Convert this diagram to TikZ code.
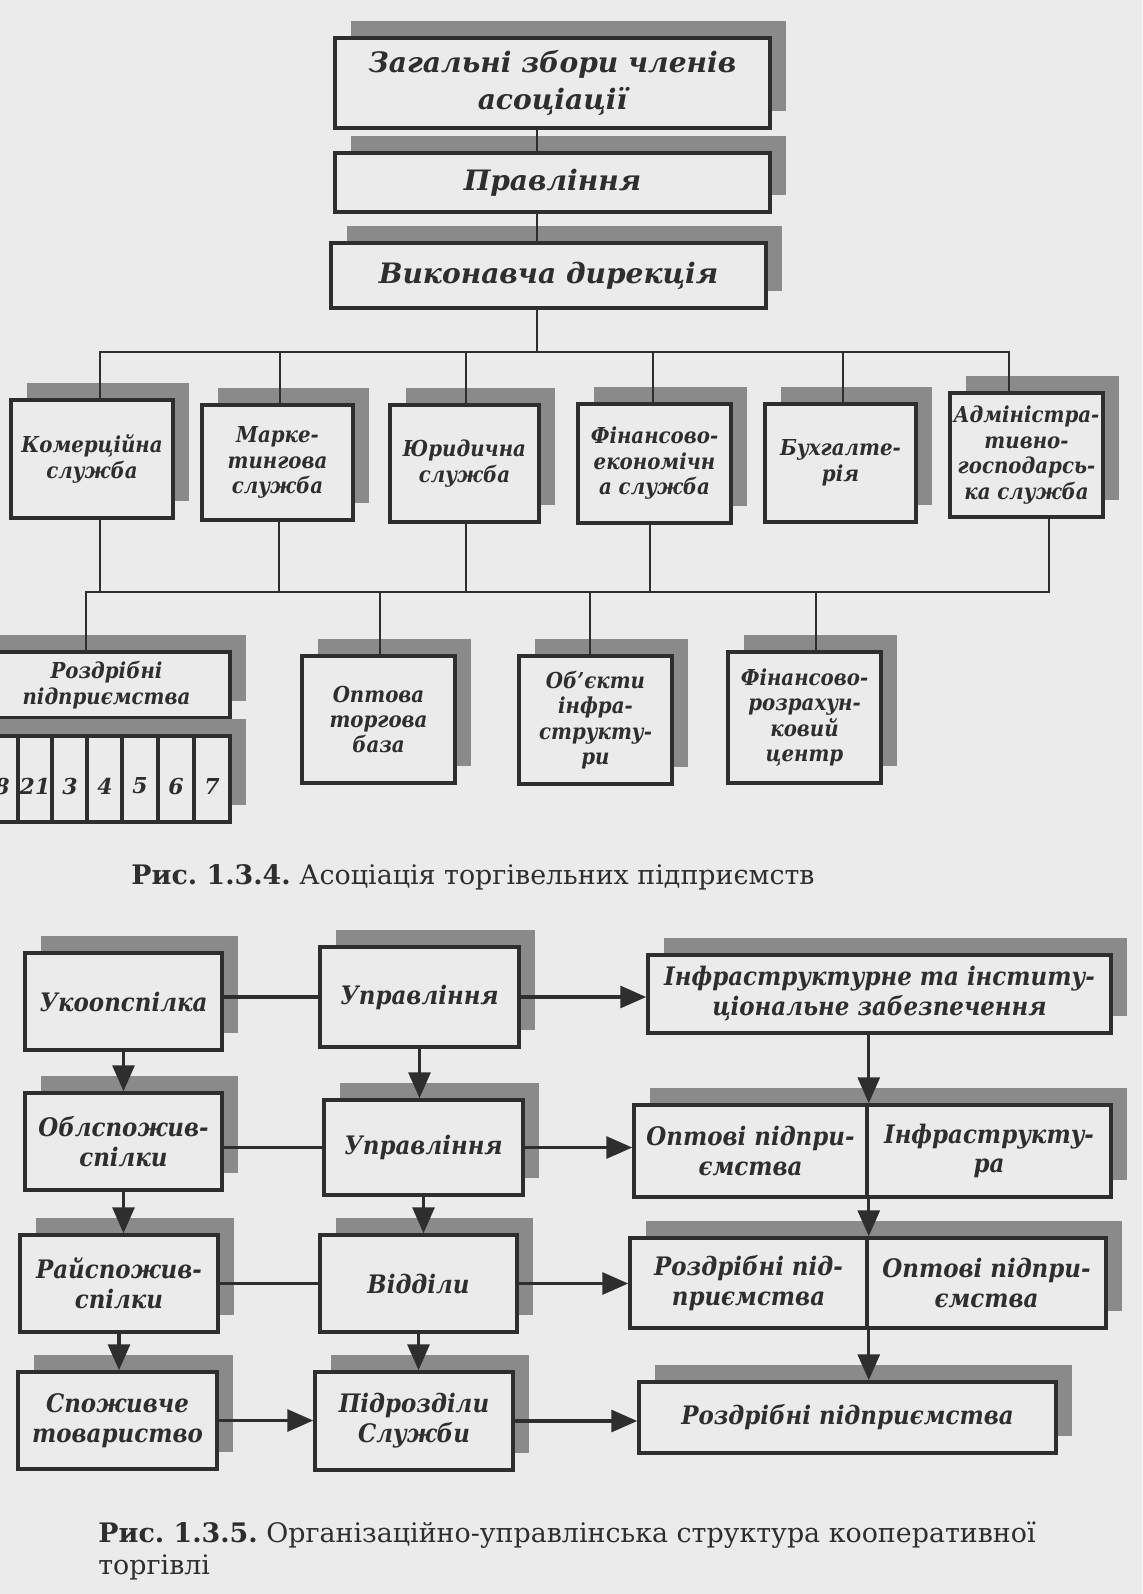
\documentclass[tikz,border=0pt]{standalone}
\usepackage{fontspec}
\setmainfont{DejaVu Serif}
\newfontfamily\narrowf[FakeStretch=0.9]{DejaVu Serif}
\usetikzlibrary{arrows.meta}
\definecolor{paper}{gray}{0.92}
\definecolor{shade}{gray}{0.54}
\definecolor{ink}{gray}{0.18}
\frenchspacing

\begin{document}
\begin{tikzpicture}[x=0.02cm, y=-0.02cm,
    wh/.style 2 args = {minimum width={#1*0.02cm}, minimum height={#2*0.02cm}},
    sbox/.style = {draw=ink, line width=2pt, fill=paper, text=ink, align=center, inner sep=0pt,
        preaction={fill=shade, transform canvas={shift={(0.32cm,0.34cm)}}}},
    big/.style = {sbox, font=\bfseries\itshape\fontsize{16}{21.5}\selectfont},
    small/.style = {sbox, font=\narrowf\bfseries\itshape\fontsize{12.5}{14.5}\selectfont},
    mid/.style = {sbox, font=\narrowf\bfseries\itshape\fontsize{14.5}{17}\selectfont},
    num/.style = {text=ink, inner sep=0pt, font=\bfseries\itshape\fontsize{12.5}{12.5}\selectfont},
    lnk/.style = {draw=ink, line width=1.2pt},
    lnkb/.style = {draw=ink, line width=1.8pt},
    arr/.style = {lnkb, -{Triangle[length=0.52cm, width=0.44cm]}},
    rys/.style = {text=ink, anchor=west, align=left, inner sep=0pt, font=\fontsize{15.3}{18}\selectfont}]

    \useasboundingbox (0,0) rectangle (1142,1594);
    \fill[paper] (0,0) rectangle (1142,1594);

    % Рис. 1.3.4
    \node[big, wh={435}{90}] (zb) at (552.5,83) {Загальні збори членів\\асоціації};
    \node[big, wh={435}{59}] (pr) at (552.5,182.5) {Правління};
    \node[big, wh={435}{65}] (vd) at (548.5,275.5) {Виконавча дирекція};

    \node[small, wh={162}{118}] (kom) at (92,459) {Комерційна\\служба};
    \node[small, wh={151}{115}] (mar) at (277.5,462.5) {Марке-\\тингова\\служба};
    \node[small, wh={149}{117}] (yur) at (464.5,463.5) {Юридична\\служба};
    \node[small, wh={153}{119}] (fin) at (654.5,463.5) {Фінансово-\\економічн\\а служба};
    \node[small, wh={151}{118}] (bux) at (840.5,463) {Бухгалте-\\рія};
    \node[small, wh={153}{124}] (adm) at (1026.5,455) {Адміністра-\\тивно-\\господарсь-\\ка служба};

    \node[small, wh={247}{66}] (rozd) at (106.5,685) {Роздрібні\\підприємства};
    \node[small, wh={247}{86}] (tbl) at (106.5,779) {};
    \foreach \x in {18,52,87,122,158,194}
        \draw[lnk, line width=1.8pt] (\x,0 |- tbl.north) -- (\x,0 |- tbl.south);
    \foreach \x/\t in {2/8, 35/21, 70/3, 105/4, 140/5, 176/6, 212/7}
        \node[num] (n\t) at (\x,786) {\t};
    \node[small, wh={153}{127}] (opt) at (378.5,719.5) {Оптова\\торгова\\база};
    \node[small, wh={153}{128}] (obj) at (595.5,720) {Об’єкти\\інфра-\\структу-\\ри};
    \node[small, wh={153}{131}] (fr) at (804.5,717.5) {Фінансово-\\розрахун-\\ковий\\центр};

    \coordinate (bus1) at (537,352);
    \coordinate (bus2) at (590,592);
    \draw[lnk] (zb.south -| bus1) -- (pr.north -| bus1);
    \draw[lnk] (pr.south -| bus1) -- (vd.north -| bus1);
    \draw[lnk] (vd.south -| bus1) -- (bus1);
    \foreach \n/\x in {kom/100, mar/280, yur/466, fin/653, bux/843, adm/1009}
        \draw[lnk] (bus1) -| (\x,0 |- \n.north);
    \foreach \n/\x in {kom/100, mar/279, yur/466, fin/650, adm/1049}
        \draw[lnk] (\x,0 |- \n.south) |- (bus2);
    \foreach \n/\x in {rozd/86, opt/380, obj/590, fr/816}
        \draw[lnk] (bus2) -| (\x,0 |- \n.north);

    \node[rys] (cap1) at (131,877) {\textbf{Рис. 1.3.4.} Асоціація торгівельних підприємств};

    % Рис. 1.3.5
    \node[mid, wh={197}{97}] (uk) at (123.5,1001.5) {Укоопспілка};
    \node[mid, wh={199}{100}] (up1) at (419.5,997) {Управління};
    \node[mid, wh={463}{78}] (inf) at (879.5,994) {Інфраструктурне та інститу-\\ціональне забезпечення};
    \node[mid, wh={197}{97}] (obl) at (123.5,1141.5) {Облспожив-\\спілки};
    \node[mid, wh={199}{95}] (up2) at (423.5,1147.5) {Управління};
    \node[mid, wh={233}{92}] (optp) at (750.5,1151) {Оптові підпри-\\ємства};
    \node[mid, wh={244}{92}] (infr) at (989,1151) {Інфраструкту-\\ра};
    \node[mid, wh={198}{97}] (ray) at (119,1283.5) {Райспожив-\\спілки};
    \node[mid, wh={197}{97}] (vid) at (418.5,1283.5) {Відділи};
    \node[mid, wh={237}{90}] (rozp) at (748.5,1283) {Роздрібні під-\\приємства};
    \node[mid, wh={239}{90}] (optp2) at (986.5,1283) {Оптові підпри-\\ємства};
    \node[mid, wh={199}{97}] (spo) at (117.5,1420.5) {Споживче\\товариство};
    \node[mid, wh={198}{98}] (pid) at (414,1421) {Підрозділи\\Служби};
    \node[mid, wh={417}{71}] (rp) at (847.5,1417.5) {Роздрібні підприємства};

    \draw[lnkb] (uk.east |- up1.west) -- (up1.west);
    \draw[arr] (up1.east) -- (up1.east -| inf.west);
    \draw[arr] (inf.south -| optp.east) -- (optp.north east);
    \draw[arr] (uk.south) -- (uk.south |- obl.north);
    \draw[arr] (up1.south) -- (up1.south |- up2.north);
    \draw[lnkb] (obl.east |- up2.west) -- (up2.west);
    \draw[arr] (up2.east) -- (up2.east -| optp.west);
    \draw[arr] (obl.south) -- (obl.south |- ray.north);
    \draw[arr] (up2.south) -- (up2.south |- vid.north);
    \draw[arr] (optp.south east) -- (rozp.north east);
    \draw[lnkb] (ray.east |- vid.west) -- (vid.west);
    \draw[arr] (vid.east) -- (vid.east -| rozp.west);
    \draw[arr] (ray.south) -- (ray.south |- spo.north);
    \draw[arr] (vid.south) -- (vid.south |- pid.north);
    \draw[arr] (rozp.south east) -- (rozp.south east |- rp.north);
    \draw[arr] (spo.east) -- (spo.east -| pid.west);
    \draw[arr] (pid.east) -- (pid.east -| rp.west);

    \node[rys] (cap2) at (98,1551) {\textbf{Рис. 1.3.5.} Організаційно-управлінська структура кооперативної\\торгівлі};
\end{tikzpicture}
\end{document}
